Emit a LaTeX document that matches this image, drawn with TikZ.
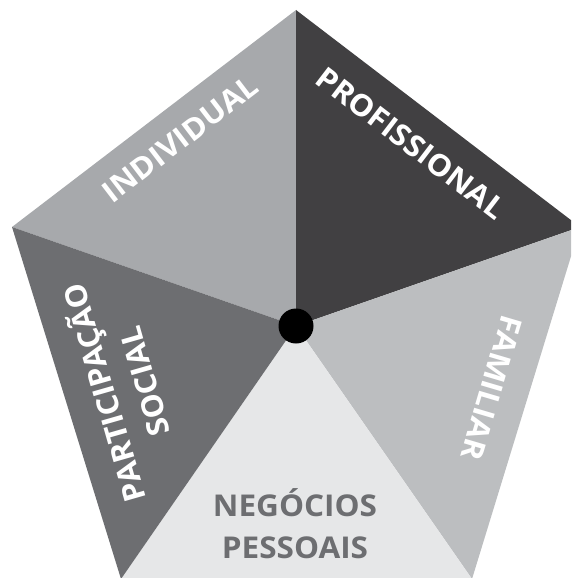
\documentclass[tikz,border=0pt]{standalone}
\usepackage{fontspec}
\setmainfont{Open Sans}[FakeStretch=1.05]
\definecolor{segA}{HTML}{A7A9AC}
\definecolor{segB}{HTML}{414042}
\definecolor{segC}{HTML}{BCBEC0}
\definecolor{segD}{HTML}{E6E7E8}
\definecolor{segE}{HTML}{6D6E71}
\tikzset{
  lbl/.style={font=\fontsize{30}{42}\selectfont\bfseries, text=white, align=center, inner sep=0pt},
}
\begin{document}
\begin{tikzpicture}[x=1pt,y=-1pt]
\useasboundingbox (0,0) rectangle (571,578);
\clip (0,0) rectangle (571,578);
% pentagon corners and hub
\coordinate (c) at (296,326);
\coordinate (t) at (296,10);
\coordinate (ur) at (580,227);
\coordinate (br) at (472,579);
\coordinate (bl) at (121,579);
\coordinate (ul) at (12,227);
% five sectors
\fill[segA] (c) -- (ul) -- (t) -- cycle;
\fill[segB] (c) -- (t) -- (ur) -- cycle;
\fill[segC] (c) -- (ur) -- (br) -- cycle;
\fill[segD] (c) -- (br) -- (bl) -- cycle;
\fill[segE] (c) -- (bl) -- (ul) -- cycle;
% hub dot
\node[circle, fill=black, minimum size=35pt, inner sep=0pt] (hub) at (c) {};
% sector labels
\node[lbl, rotate=37.4] (ind) at (180,139) {INDIVIDUAL};
\node[lbl, rotate=-37.4] (pro) at (411,143) {PROFISSIONAL};
\node[lbl, rotate=-106.5] (fam) at (492,388) {FAMILIAR};
\node[lbl, rotate=106] (par) at (122,388) {PARTICIPAÇÃO\\SOCIAL};
\node[lbl, text=segE] (neg) at (295,524) {NEGÓCIOS\\PESSOAIS};
\end{tikzpicture}
\end{document}
